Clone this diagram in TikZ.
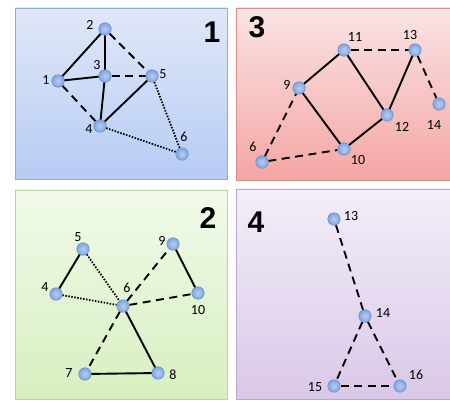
\documentclass[tikz,border=0pt]{standalone}
\usepackage{fontspec}
\setmainfont{Carlito}
\newfontfamily\bigfont{Liberation Sans}
\pgfdeclarelayer{bg}
\pgfdeclarelayer{edges}
\pgfsetlayers{bg,edges,main}
\definecolor{nodefill}{HTML}{7FA5E2}
\definecolor{nodeline}{HTML}{6A8FCB}
\definecolor{bAd}{HTML}{8FABD6}\definecolor{bAt}{HTML}{E0E8F8}\definecolor{bAb}{HTML}{B6CCF4}
\definecolor{rAd}{HTML}{D98A8A}\definecolor{rAt}{HTML}{FAE4E4}\definecolor{rAb}{HTML}{F4A6A3}
\definecolor{gAd}{HTML}{BBD89C}\definecolor{gAt}{HTML}{F1FAE9}\definecolor{gAb}{HTML}{D7EFC0}
\definecolor{pAd}{HTML}{B9A9CE}\definecolor{pAt}{HTML}{F3EEF8}\definecolor{pAb}{HTML}{D9C8E8}
\begin{document}
\begin{tikzpicture}[x=1pt,y=-1pt,
  vtx/.style={circle,inner sep=0pt,minimum size=12.5pt,draw=nodeline,line width=0.5pt,
    inner color=nodefill!55!white,outer color=nodefill},
  lab/.style={font=\fontsize{14}{14}\selectfont,inner sep=0pt,text=black},
  big/.style={font=\bigfont\bfseries\fontsize{30}{30}\selectfont,inner sep=0pt},
  panel/.style={line width=0.9pt},
  solidedge/.style={line width=1.9pt,black},
  dashedge/.style={line width=1.9pt,black,dash pattern=on 8pt off 5.5pt},
  dotedge/.style={line width=1.8pt,black,dash pattern=on 1.5pt off 1.5pt}]
\useasboundingbox (0,0) rectangle (450,401);
\begin{pgfonlayer}{bg}
\fill[white] (0,0) rectangle (450,401);
\draw[panel,draw=bAd,top color=bAt,bottom color=bAb] (15,8) rectangle (227,179);
\draw[panel,draw=rAd,top color=rAt,bottom color=rAb] (236,8) rectangle (452,180);
\draw[panel,draw=gAd,top color=gAt,bottom color=gAb] (15,190) rectangle (227,399);
\draw[panel,draw=pAd,top color=pAt,bottom color=pAb] (236,189) rectangle (452,399);
\end{pgfonlayer}
% panel 1
\node[big] (p1) at (212,32) {1};
\node[vtx] (a1) at (58,81) {};
\node[vtx] (a2) at (105,29) {};
\node[vtx] (a3) at (105,76) {};
\node[vtx] (a4) at (100,126) {};
\node[vtx] (a5) at (152,76) {};
\node[vtx] (a6) at (182,154) {};
\node[lab] (la1) at (46,80) {1};
\node[lab] (la2) at (90,25) {2};
\node[lab] (la3) at (97,65) {3};
\node[lab] (la4) at (89,129) {4};
\node[lab] (la5) at (163,74) {5};
\node[lab] (la6) at (184,137) {6};
% panel 3
\node[big] (p3) at (257,27) {3};
\node[vtx] (c6) at (262,162) {};
\node[vtx] (c9) at (299,88) {};
\node[vtx] (c10) at (344,149) {};
\node[vtx] (c11) at (344,50) {};
\node[vtx] (c12) at (387,115) {};
\node[vtx] (c13) at (415,50) {};
\node[vtx] (c14) at (439,104) {};
\node[lab] (lc6) at (253,147) {6};
\node[lab] (lc9) at (287,85) {9};
\node[lab] (lc10) at (358,160) {10};
\node[lab] (lc11) at (355,37) {11};
\node[lab] (lc12) at (402,127) {12};
\node[lab] (lc13) at (410,35) {13};
\node[lab] (lc14) at (434,125) {14};
% panel 2
\node[big] (p2) at (208,218) {2};
\node[vtx] (b4) at (56,294) {};
\node[vtx] (b5) at (83,249) {};
\node[vtx] (b6) at (123,306) {};
\node[vtx] (b7) at (85,374) {};
\node[vtx] (b8) at (158,373) {};
\node[vtx] (b9) at (173,244) {};
\node[vtx] (b10) at (198,293) {};
\node[lab] (lb4) at (45,287) {4};
\node[lab] (lb5) at (78,237) {5};
\node[lab] (lb6) at (127,288) {6};
\node[lab] (lb7) at (69,373) {7};
\node[lab] (lb8) at (173,375) {8};
\node[lab] (lb9) at (162,241) {9};
\node[lab] (lb10) at (198,310) {10};
% panel 4
\node[big] (p4) at (256,222) {4};
\node[vtx] (d13) at (334,219) {};
\node[vtx] (d14) at (365,316) {};
\node[vtx] (d15) at (334,386) {};
\node[vtx] (d16) at (400,386) {};
\node[lab] (ld13) at (351,216) {13};
\node[lab] (ld14) at (383,313) {14};
\node[lab] (ld15) at (315,387) {15};
\node[lab] (ld16) at (416,375) {16};
\begin{pgfonlayer}{edges}
% panel 1
\draw[solidedge] (a1.center) -- (a2.center);
\draw[solidedge] (a2.center) -- (a3.center);
\draw[solidedge] (a1.center) -- (a3.center);
\draw[solidedge] (a3.center) -- (a4.center);
\draw[solidedge] (a4.center) -- (a5.center);
\draw[dashedge] (a2) -- (a5);
\draw[dashedge] (a3) -- (a5);
\draw[dashedge] (a1) -- (a4);
\draw[dotedge] (a5) -- (a6);
\draw[dotedge] (a4) -- (a6);
% panel 3
\draw[solidedge] (c9.center) -- (c11.center);
\draw[solidedge] (c11.center) -- (c12.center);
\draw[solidedge] (c13.center) -- (c12.center);
\draw[solidedge] (c9.center) -- (c10.center);
\draw[solidedge] (c10.center) -- (c12.center);
\draw[dashedge] (c11) -- (c13);
\draw[dashedge] (c13) -- (c14);
\draw[dashedge] (c6) -- (c9);
\draw[dashedge] (c6) -- (c10);
% panel 2
\draw[solidedge] (b4.center) -- (b5.center);
\draw[solidedge] (b9.center) -- (b10.center);
\draw[solidedge] (b6.center) -- (b8.center);
\draw[solidedge] (b7.center) -- (b8.center);
\draw[dotedge] (b5) -- (b6);
\draw[dotedge] (b4) -- (b6);
\draw[dashedge] (b6) -- (b9);
\draw[dashedge] (b6) -- (b10);
\draw[dashedge] (b6) -- (b7);
% panel 4
\draw[dashedge] (d13) -- (d14);
\draw[dashedge] (d14) -- (d15);
\draw[dashedge] (d14) -- (d16);
\draw[dashedge] (d15) -- (d16);
\end{pgfonlayer}
\end{tikzpicture}
\end{document}
